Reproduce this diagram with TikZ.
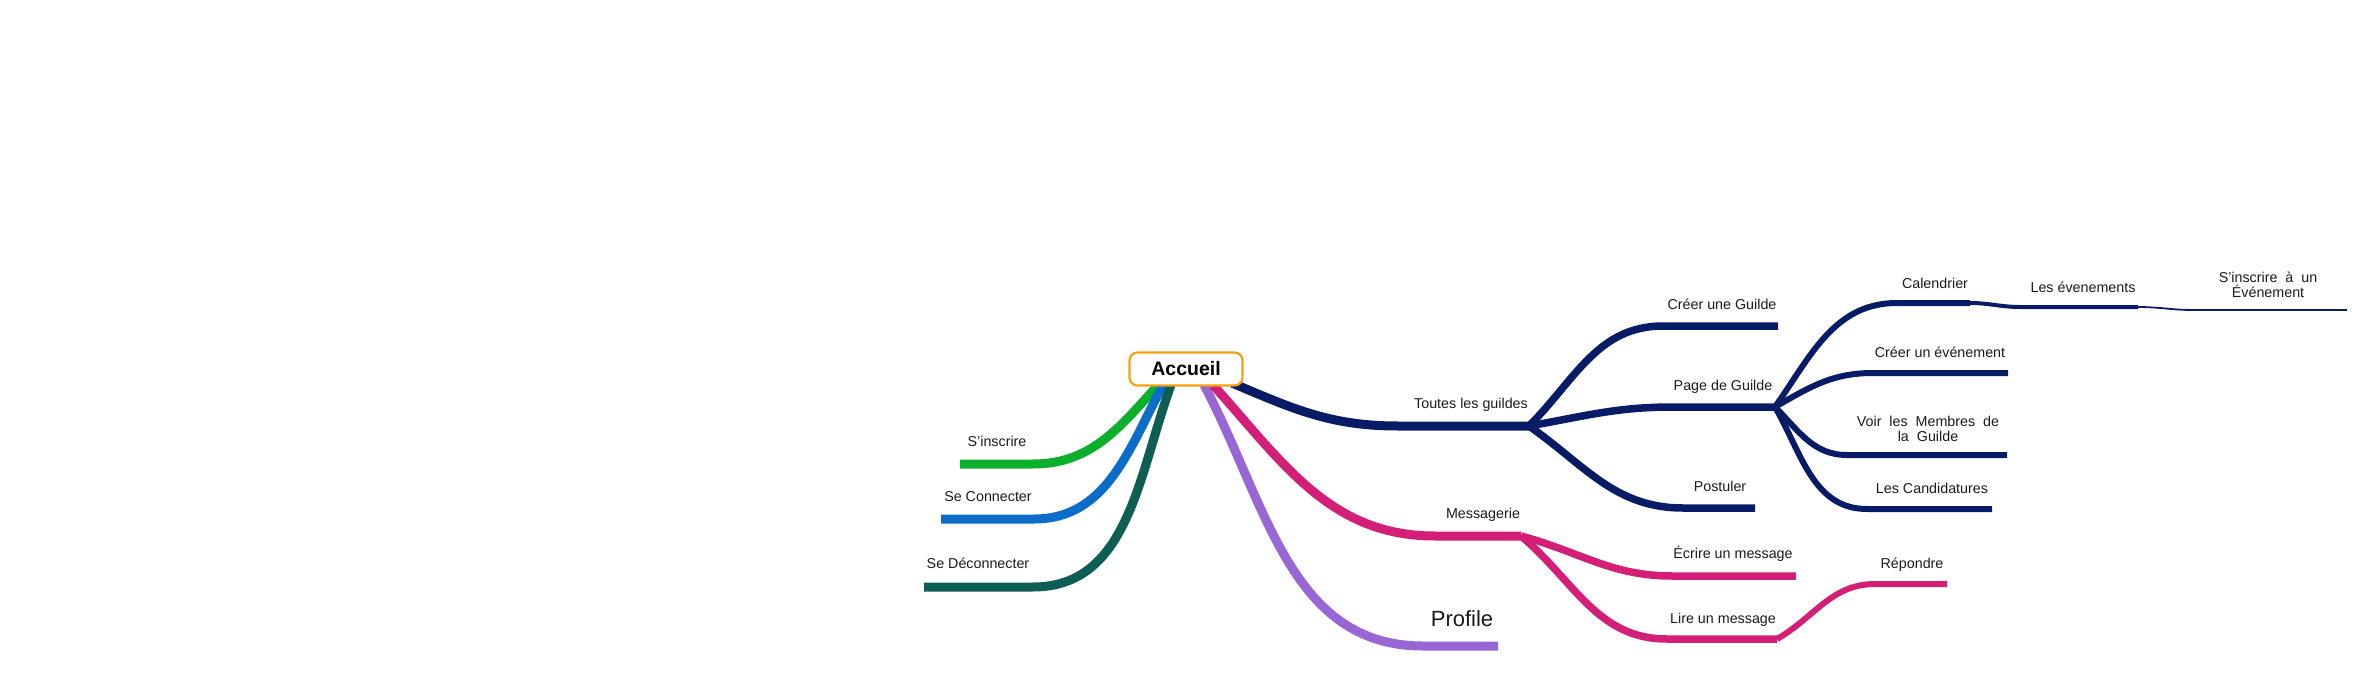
\documentclass[tikz,border=0pt]{standalone}
\usepackage{fontspec}
\setmainfont{Liberation Sans}
\usetikzlibrary{backgrounds,calc}
\definecolor{cGreen}{HTML}{0BAF2B}
\definecolor{cBlue}{HTML}{0A6EC8}
\definecolor{cDkGreen}{HTML}{0E5E55}
\definecolor{cNavy}{HTML}{081B66}
\definecolor{cPink}{HTML}{D41F78}
\definecolor{cPurple}{HTML}{9966D6}
\definecolor{cOrange}{HTML}{F5A00F}
\definecolor{cText}{HTML}{1A1A1A}
\begin{document}
\begin{tikzpicture}[x=1pt,y=-1pt,line cap=butt,line join=round,
  lbl/.style={anchor=base,inner sep=0pt,text=cText,font=\fontsize{14.3}{15}\selectfont},
  lbltwo/.style={anchor=south,inner sep=0pt,text=cText,align=center,font=\fontsize{14.3}{15}\selectfont},
  lvone/.style={line width=9pt},
  lvtwo/.style={line width=7.5pt},
  lvthree/.style={line width=6pt},
  lvfour/.style={line width=4pt},
  lvfive/.style={line width=1.8pt},
  rootbox/.style={draw=cOrange,line width=2.2pt,rounded corners=8pt,fill=white,
    minimum width=113pt,minimum height=33pt,inner sep=0pt,text=black,
    font=\bfseries\fontsize{19.5}{20}\selectfont}]
\useasboundingbox (0,0) rectangle (2371,676);

\node[rootbox] (root) at (1186,369) {Accueil};

% start points on the root
\coordinate (sG) at (1158,385);
\coordinate (sB) at (1163,385);
\coordinate (sD) at (1171,385);
\coordinate (sP) at (1204,385);
\coordinate (sM) at (1213,385);
\coordinate (sT) at (1232,383);

% level 1 line ends
\coordinate (gA) at (1033,464); \coordinate (gB) at (960,464);
\coordinate (bA) at (1034,519); \coordinate (bB) at (941,519);
\coordinate (dA) at (1033,587); \coordinate (dB) at (924,587);
\coordinate (tA) at (1398,426); \coordinate (tB) at (1529,426);
\coordinate (mA) at (1435,536); \coordinate (mB) at (1521,536);
\coordinate (pA) at (1423,646); \coordinate (pB) at (1498,646);

% level 2
\coordinate (cgA) at (1663,326); \coordinate (cgB) at (1778,326);
\coordinate (pgA) at (1673,407); \coordinate (pgB) at (1775,407);
\coordinate (poA) at (1683,508); \coordinate (poB) at (1755,508);
\coordinate (ecA) at (1672,576); \coordinate (ecB) at (1796,576);
\coordinate (liA) at (1667,639); \coordinate (liB) at (1777,639);

% level 3
\coordinate (caA) at (1897,303); \coordinate (caB) at (1970,303);
\coordinate (ceA) at (1873,373); \coordinate (ceB) at (2008,373);
\coordinate (voA) at (1847,455); \coordinate (voB) at (2007,455);
\coordinate (lcA) at (1867,509); \coordinate (lcB) at (1992,509);
\coordinate (reA) at (1875,584); \coordinate (reB) at (1947,584);

% level 4, 5
\coordinate (evA) at (2020,307); \coordinate (evB) at (2138,307);
\coordinate (siA) at (2193,310); \coordinate (siB) at (2347,310);

% labels
\node[lbl] (lG) at (997,446) {S'inscrire};
\node[lbl] (lB) at (988,501) {Se Connecter};
\node[lbl] (lD) at (978,568) {Se Déconnecter};
\node[lbl] (lT) at (1471,408) {Toutes les guildes};
\node[lbl] (lM) at (1483,518) {Messagerie};
\node[lbl,font=\fontsize{22}{24}\selectfont] (lP) at (1462,626) {Profile};
\node[lbl] (lCG) at (1722,309) {Créer une Guilde};
\node[lbl] (lPG) at (1723,390) {Page de Guilde};
\node[lbl] (lPO) at (1720,491) {Postuler};
\node[lbl] (lEC) at (1733,558) {Écrire un message};
\node[lbl] (lLI) at (1723,623) {Lire un message};
\node[lbl] (lCA) at (1935,288) {Calendrier};
\node[lbl] (lCE) at (1940,357) {Créer un événement};
\node[lbltwo] (lVO) at (1928,442) {Voir\ \ les\ \ Membres\ \ de\\la\ \ Guilde};
\node[lbl] (lLC) at (1932,493) {Les Candidatures};
\node[lbl] (lRE) at (1912,568) {Répondre};
\node[lbl] (lEV) at (2083,292) {Les évenements};
\node[lbltwo] (lSI) at (2268,298) {S'inscrire\ \ à\ \ un\\Événement};

\begin{pgfonlayer}{background}
% level 1
\draw[lvone,cGreen] (sG) to[out=-132,in=0] (gA) -- (gB);
\draw[lvone,cBlue] (sB) to[out=-118,in=0] (bA) -- (bB);
\draw[lvone,cDkGreen] (sD) to[out=-110,in=0] (dA) -- (dB);
\draw[lvone,cPurple] (sP) to[out=-62,in=180] (pA) -- (pB);
\draw[lvone,cPink] (sM) to[out=-48,in=180] (mA) -- (mB);
\draw[lvone,cNavy] (sT) to[out=-23,in=180] (tA) -- (tB);
% level 2
\draw[lvtwo,cNavy] (tB) to[out=45,in=180] (cgA) -- (cgB);
\draw[lvtwo,cNavy] (tB) to[out=10,in=180] (pgA) -- (pgB);
\draw[lvtwo,cNavy] (tB) to[out=-35,in=180] (poA) -- (poB);
\draw[lvtwo,cPink] (mB) to[out=-15,in=180] (ecA) -- (ecB);
\draw[lvtwo,cPink] (mB) to[out=-40,in=180] (liA) -- (liB);
% level 3
\draw[lvthree,cNavy] (pgB) to[out=55,in=180] (caA) -- (caB);
\draw[lvthree,cNavy] (pgB) to[out=30,in=180] (ceA) -- (ceB);
\draw[lvthree,cNavy] (pgB) to[out=-45,in=180] (voA) -- (voB);
\draw[lvthree,cNavy] (pgB) to[out=-60,in=180] (lcA) -- (lcB);
\draw[lvthree,cPink] (liB) to[out=30,in=180] (reA) -- (reB);
% level 4, 5
\draw[lvfour,cNavy] (caB) to[out=0,in=180] (evA) -- (evB);
\draw[lvfive,cNavy] (evB) to[out=0,in=180] (siA) -- (siB);
\end{pgfonlayer}
\end{tikzpicture}
\end{document}
